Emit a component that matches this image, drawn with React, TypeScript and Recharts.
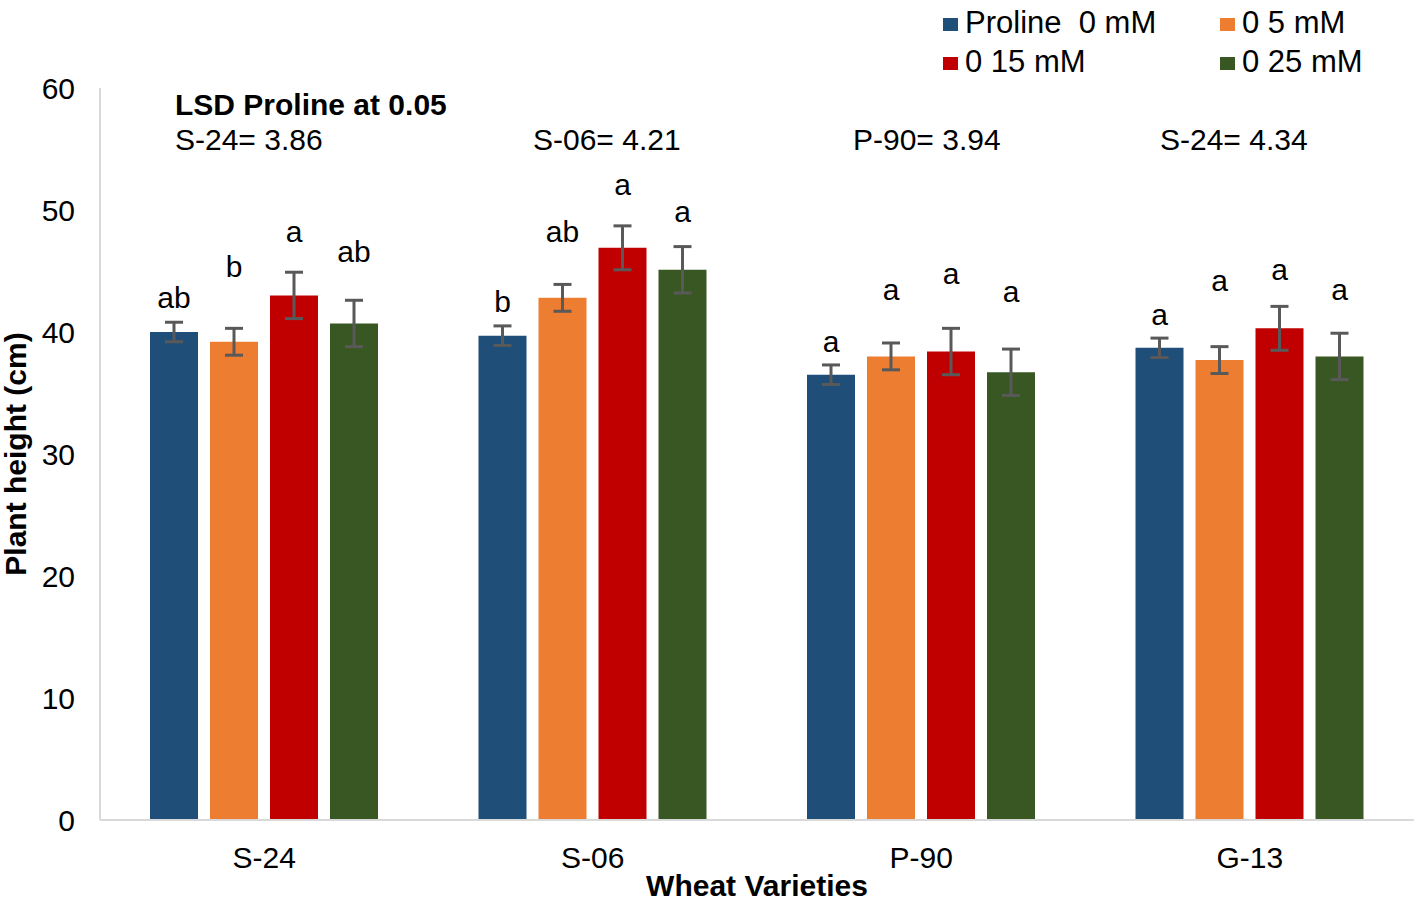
import { Bar, BarChart, ErrorBar, LabelList, XAxis, YAxis } from 'recharts'

const categories = ['S-24', 'S-06', 'P-90', 'G-13']
const seriesNames = ['Proline  0 mM', '0 5 mM', '0 15 mM', '0 25 mM']
const colors = ['#1f4e79', '#ed7d31', '#c00000', '#385723']

const p0 = [40.0, 39.7, 36.5, 38.7]
const p5 = [39.2, 42.8, 38.0, 37.7]
const p15 = [43.0, 46.9, 38.4, 40.3]
const p25 = [40.7, 45.1, 36.7, 38.0]

const e0 = [0.8, 0.8, 0.8, 0.8]
const e5 = [1.1, 1.1, 1.1, 1.1]
const e15 = [1.9, 1.8, 1.9, 1.8]
const e25 = [1.9, 1.9, 1.9, 1.9]

// significance letters and the height (cm) they sit at
const l0 = ['ab', 'b', 'a', 'a']
const l5 = ['b', 'ab', 'a', 'a']
const l15 = ['a', 'a', 'a', 'a']
const l25 = ['ab', 'a', 'a', 'a']
const at0 = [42.0, 41.6, 38.4, 40.6]
const at5 = [44.5, 47.4, 42.6, 43.4]
const at15 = [47.4, 51.2, 43.9, 44.3]
const at25 = [45.7, 49.0, 42.5, 42.6]

const lsd = ['S-24= 3.86', 'S-06= 4.21', 'P-90= 3.94', 'S-24= 4.34']
const yTicks = [0, 10, 20, 30, 40, 50, 60]

const values = [p0, p5, p15, p25]
const letters = [l0, l5, l15, l25]
const letterAt = [at0, at5, at15, at25]

const data = categories.map((name, i) => ({
  name,
  s0: p0[i], s1: p5[i], s2: p15[i], s3: p25[i],
  err0: e0[i], err1: e5[i], err2: e15[i], err3: e25[i],
}))

const font = '"Liberation Sans", Arial, sans-serif'

const letterLabel = (s: number) => (props: any) => {
  const { x, y, width, height, index } = props
  const v = values[s][index]
  const ppu = height / v
  const ty = y + height - letterAt[s][index] * ppu
  return (
    <text x={x + width / 2} y={ty} textAnchor="middle" fontSize={30} fontFamily={font} fill="#000">
      {letters[s][index]}
    </text>
  )
}

const lsdLeft = [175, 533, 853, 1160]

export default function App() {
  return (
    <div style={{ position: 'absolute', left: 0, top: 0, width: 1424, height: 901, background: '#fff', fontFamily: font }}>
      <BarChart
        width={1424}
        height={901}
        data={data}
        margin={{ top: 88, right: 10, bottom: 0, left: 0 }}
        barSize={48}
        barGap={12}
      >
        <XAxis
          dataKey="name"
          axisLine={{ stroke: '#d9d9d9', strokeWidth: 2 }}
          tickLine={false}
          tickSize={10}
          tickMargin={17}
          height={81}
          tick={{ fontSize: 30, fill: '#000', fontFamily: font }}
          label={{ value: 'Wheat Varieties', position: 'insideBottom', offset: 5, fontSize: 30, fontWeight: 'bold', fill: '#000', fontFamily: font }}
        />
        <YAxis
          domain={[0, 60]}
          ticks={yTicks}
          width={100}
          axisLine={{ stroke: '#d9d9d9', strokeWidth: 2 }}
          tickLine={false}
          tickSize={10}
          tickMargin={15}
          tick={{ fontSize: 30, fill: '#000', fontFamily: font }}
          label={{ value: 'Plant height (cm)', angle: -90, position: 'insideLeft', offset: 15, style: { textAnchor: 'middle' }, fontSize: 30, fontWeight: 'bold', fill: '#000', fontFamily: font }}
        />
        {[0, 1, 2, 3].map((s) => (
          <Bar key={s} dataKey={'s' + s} name={seriesNames[s]} fill={colors[s]} isAnimationActive={false}>
            <ErrorBar dataKey={'err' + s} width={9} strokeWidth={3} stroke="#595959" direction="y" />
            <LabelList dataKey={'s' + s} content={letterLabel(s)} />
          </Bar>
        ))}
      </BarChart>

      {/* legend */}
      {seriesNames.map((n, i) => {
        const left = i % 2 === 0 ? 943 : 1220
        const row = i < 2 ? 0 : 39
        return (
          <div key={n}>
            <div style={{ position: 'absolute', left, top: 18 + row, width: 15, height: 13, background: colors[i] }} />
            <div style={{ position: 'absolute', left: left + 22, top: 7 + row, fontSize: 31, lineHeight: 1, whiteSpace: 'pre' }}>
              {n}
            </div>
          </div>
        )
      })}

      {/* LSD annotations */}
      <div style={{ position: 'absolute', left: 175, top: 90, fontSize: 30, fontWeight: 'bold', lineHeight: 1, whiteSpace: 'pre' }}>
        LSD Proline at 0.05
      </div>
      {lsd.map((t, i) => (
        <div key={i} style={{ position: 'absolute', left: lsdLeft[i], top: 125, fontSize: 30, lineHeight: 1, whiteSpace: 'pre' }}>
          {t}
        </div>
      ))}
    </div>
  )
}
